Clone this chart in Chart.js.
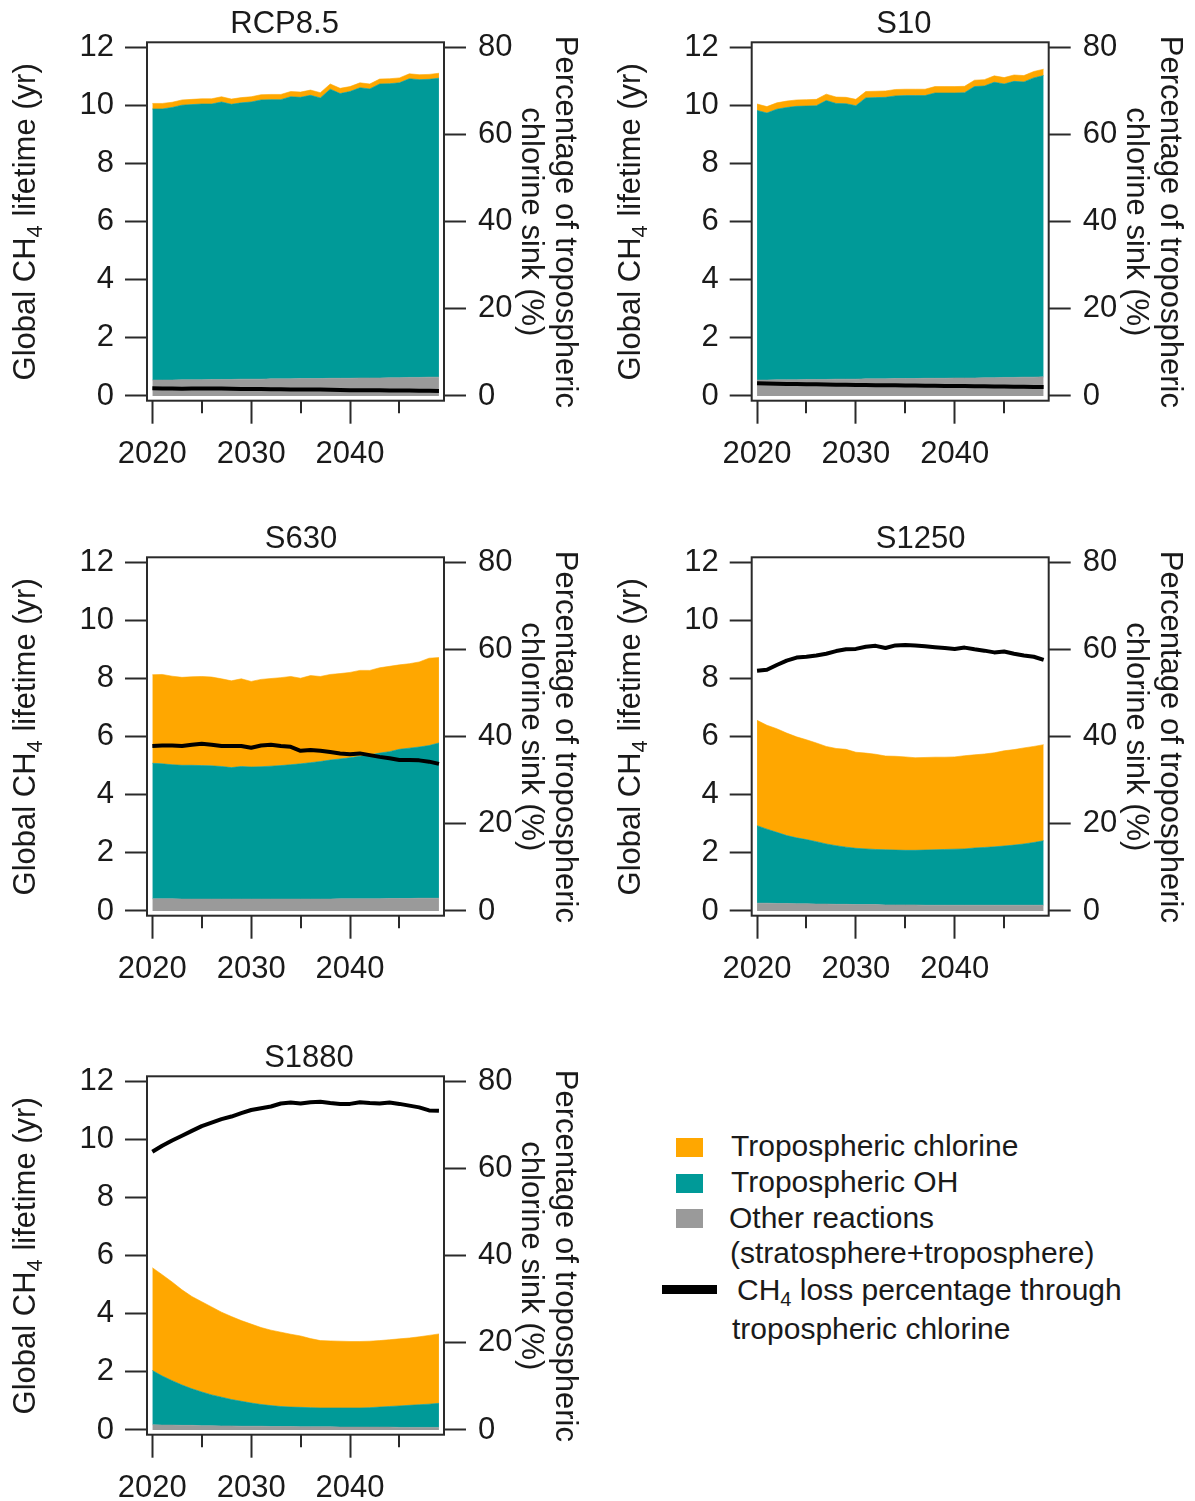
<!DOCTYPE html>
<html>
<head>
<meta charset="utf-8">
<title>Global CH4 lifetime by sink</title>
<script src="https://cdn.jsdelivr.net/npm/chart.js@4.4.1/dist/chart.umd.min.js"></script>
<style>
  html, body { margin: 0; padding: 0; background: #ffffff; }
  body { position: relative; width: 1195px; height: 1501px; overflow: hidden;
         font-family: "Liberation Sans", Arial, sans-serif; color: #1a1a1a; }
  canvas { position: absolute; }
  .swatch { position: absolute; }
  .legtext { position: absolute; font-size: 30px; line-height: 30px; white-space: nowrap; }
  .legtext sub { font-size: 20px; line-height: 0; vertical-align: -6px; }
</style>
</head>
<body>
<canvas id="p0" width="600" height="467" style="left:0px;top:0px"></canvas>
<canvas id="p1" width="590" height="467" style="left:605px;top:0px"></canvas>
<canvas id="p2" width="600" height="467" style="left:0px;top:515px"></canvas>
<canvas id="p3" width="590" height="467" style="left:605px;top:515px"></canvas>
<canvas id="p4" width="600" height="467" style="left:0px;top:1034px"></canvas>
<div id="legend"></div>

<script>
// ---- data -------------------------------------------------------------
const years = [2020, 2021, 2022, 2023, 2024, 2025, 2026, 2027, 2028, 2029,
               2030, 2031, 2032, 2033, 2034, 2035, 2036, 2037, 2038, 2039,
               2040, 2041, 2042, 2043, 2044, 2045, 2046, 2047, 2048, 2049];

const lifetimeTicks = [0, 2, 4, 6, 8, 10, 12];
const percentTicks = [0, 20, 40, 60, 80];
const yearTicks = [2020, 2030, 2040];
const minorYearTicks = [2025, 2035, 2045];

const scenarioNames = ['RCP8.5', 'S10', 'S630', 'S1250', 'S1880'];

// lifetime contributions (yr), stacked: other reactions, OH, chlorine
const rcpOther = [0.55,0.55,0.55,0.56,0.56,0.56,0.57,0.57,0.57,0.58,0.58,0.58,0.59,0.59,0.59,0.60,0.60,0.60,0.61,0.61,0.61,0.62,0.62,0.62,0.63,0.63,0.64,0.64,0.65,0.65];
const rcpOH    = [9.34,9.34,9.39,9.46,9.48,9.50,9.49,9.56,9.48,9.52,9.55,9.62,9.62,9.62,9.72,9.69,9.76,9.67,9.96,9.81,9.88,10.00,9.96,10.13,10.13,10.16,10.29,10.26,10.26,10.30];
const rcpCl    = [0.19,0.19,0.18,0.18,0.18,0.18,0.18,0.18,0.18,0.18,0.18,0.18,0.18,0.18,0.18,0.18,0.18,0.18,0.18,0.18,0.17,0.17,0.17,0.17,0.17,0.17,0.17,0.17,0.17,0.17];
const rcpPct   = [1.77,1.74,1.70,1.69,1.70,1.72,1.74,1.71,1.68,1.62,1.58,1.58,1.57,1.55,1.52,1.51,1.50,1.49,1.45,1.40,1.34,1.33,1.32,1.30,1.28,1.26,1.24,1.22,1.20,1.17];

const s10Other = [0.55,0.55,0.56,0.56,0.56,0.57,0.57,0.57,0.58,0.58,0.58,0.59,0.59,0.59,0.60,0.60,0.60,0.61,0.61,0.61,0.62,0.62,0.62,0.63,0.63,0.64,0.64,0.65,0.65,0.66];
const s10OH    = [9.29,9.20,9.32,9.38,9.42,9.42,9.43,9.61,9.50,9.49,9.42,9.68,9.69,9.70,9.74,9.75,9.75,9.74,9.83,9.83,9.82,9.83,10.04,10.05,10.18,10.11,10.20,10.17,10.31,10.38];
const s10Cl    = [0.22,0.22,0.22,0.22,0.22,0.22,0.22,0.22,0.22,0.22,0.22,0.22,0.22,0.22,0.22,0.22,0.22,0.22,0.22,0.22,0.22,0.22,0.22,0.22,0.22,0.22,0.22,0.22,0.22,0.22];
const s10Pct   = [2.90,2.86,2.82,2.78,2.74,2.70,2.67,2.64,2.60,2.56,2.52,2.50,2.48,2.46,2.44,2.42,2.40,2.36,2.33,2.31,2.29,2.27,2.24,2.22,2.20,2.18,2.15,2.12,2.09,2.06];

const s630Other = [0.42,0.42,0.42,0.41,0.41,0.41,0.41,0.41,0.41,0.41,0.41,0.41,0.41,0.41,0.41,0.41,0.41,0.41,0.41,0.42,0.42,0.42,0.42,0.42,0.43,0.43,0.43,0.44,0.44,0.44];
const s630OH    = [4.67,4.65,4.62,4.61,4.61,4.60,4.59,4.57,4.53,4.57,4.55,4.56,4.58,4.60,4.63,4.66,4.70,4.74,4.79,4.82,4.86,4.91,4.96,5.02,5.06,5.14,5.18,5.21,5.26,5.35];
const s630Cl    = [3.05,3.08,3.05,3.03,3.05,3.07,3.06,3.02,2.99,3.02,2.95,3.01,3.02,3.03,3.04,2.95,3.00,2.93,2.95,2.94,2.94,2.96,2.91,2.94,2.94,2.91,2.91,2.93,3.01,2.94];
const s630Pct   = [37.9,38.0,38.0,37.9,38.2,38.4,38.2,37.9,37.9,37.9,37.5,38.0,38.2,37.9,37.7,36.8,37.0,36.8,36.5,36.2,36.0,36.2,35.8,35.4,35.1,34.7,34.7,34.6,34.3,33.8];

const s1250Other = [0.27,0.27,0.26,0.26,0.25,0.25,0.24,0.24,0.23,0.23,0.22,0.22,0.22,0.21,0.21,0.21,0.21,0.20,0.20,0.20,0.20,0.20,0.20,0.20,0.20,0.20,0.20,0.20,0.20,0.20];
const s1250OH    = [2.67,2.55,2.45,2.34,2.27,2.21,2.15,2.07,2.02,1.97,1.94,1.92,1.90,1.90,1.89,1.88,1.88,1.90,1.91,1.92,1.93,1.94,1.97,1.99,2.01,2.04,2.07,2.11,2.16,2.22];
const s1250Cl    = [3.63,3.58,3.57,3.53,3.48,3.44,3.40,3.36,3.35,3.37,3.31,3.30,3.28,3.23,3.23,3.22,3.19,3.19,3.19,3.18,3.18,3.21,3.21,3.22,3.24,3.28,3.29,3.31,3.31,3.31];
const s1250Pct   = [55.2,55.4,56.5,57.5,58.2,58.4,58.7,59.1,59.7,60.1,60.2,60.7,60.9,60.4,61.0,61.1,61.0,60.8,60.6,60.4,60.2,60.5,60.1,59.8,59.4,59.6,59.1,58.7,58.4,57.7];

const s1880Other = [0.18,0.17,0.17,0.16,0.16,0.15,0.15,0.14,0.14,0.13,0.13,0.13,0.12,0.12,0.12,0.11,0.11,0.11,0.11,0.10,0.10,0.10,0.10,0.10,0.10,0.09,0.09,0.09,0.09,0.09];
const s1880OH    = [1.87,1.69,1.53,1.39,1.26,1.16,1.06,0.99,0.91,0.86,0.80,0.75,0.72,0.69,0.67,0.67,0.66,0.65,0.65,0.66,0.66,0.66,0.67,0.69,0.71,0.74,0.76,0.78,0.80,0.83];
const s1880Cl    = [3.54,3.49,3.40,3.28,3.18,3.11,3.03,2.93,2.86,2.78,2.72,2.65,2.60,2.56,2.51,2.46,2.38,2.32,2.31,2.30,2.29,2.29,2.29,2.29,2.30,2.31,2.32,2.34,2.37,2.39];
const s1880Pct   = [63.9,65.3,66.5,67.6,68.7,69.8,70.6,71.4,72.0,72.8,73.5,73.9,74.3,75.0,75.2,75.0,75.3,75.4,75.1,74.9,74.9,75.3,75.1,75.0,75.2,74.9,74.5,74.1,73.4,73.3];

const otherSeries = [rcpOther, s10Other, s630Other, s1250Other, s1880Other];
const ohSeries    = [rcpOH, s10OH, s630OH, s1250OH, s1880OH];
const clSeries    = [rcpCl, s10Cl, s630Cl, s1250Cl, s1880Cl];
const pctSeries   = [rcpPct, s10Pct, s630Pct, s1250Pct, s1880Pct];

// ---- styling ----------------------------------------------------------
const ORANGE = '#FFA700';
const TEAL   = '#009A98';
const GRAY   = '#9A9A9A';
const BLACK  = '#000000';
const AXIS   = '#2a2a2a';
const TEXT   = '#1a1a1a';
const FONT   = '"Liberation Sans", Arial, sans-serif';
const TEXT_SIZE = 31;

const LABEL_CL = 'Tropospheric chlorine';
const LABEL_OH = 'Tropospheric OH';
const LABEL_OTHER = 'Other reactions';

// plot frame inside each canvas (px)
const BOX_TOP = 42.3, BOX_BOTTOM = 400.7;
const X_MIN = 2019.46, X_MAX = 2049.51;
const Y_MIN = -0.162, Y_MAX = 12.186;
const PCT_PER_YR = 80 / 12;

const panelLayout = [
  { canvas: 'p0', boxL: 147.0, boxR: 444.0, titleDx: 137.6 },
  { canvas: 'p1', boxL: 146.7, boxR: 443.7, titleDx: 152.1 },
  { canvas: 'p2', boxL: 147.0, boxR: 444.0, titleDx: 154.0 },
  { canvas: 'p3', boxL: 146.7, boxR: 443.7, titleDx: 168.9 },
  { canvas: 'p4', boxL: 147.0, boxR: 444.0, titleDx: 162.0 }
];

// draws the frame, minor year ticks, panel title and axis titles
const panelDeco = {
  id: 'panelDeco',
  afterDatasetsDraw(chart, args, opts) {
    const { ctx, chartArea: a, scales } = chart;
    ctx.save();
    ctx.strokeStyle = AXIS;
    ctx.lineWidth = 2;
    ctx.beginPath();
    minorYearTicks.forEach(v => {
      const px = Math.round(scales.x.getPixelForValue(v));
      ctx.moveTo(px, a.bottom);
      ctx.lineTo(px, a.bottom + 12.5);
    });
    ctx.stroke();
    ctx.strokeRect(a.left, a.top, a.right - a.left, a.bottom - a.top);

    ctx.fillStyle = TEXT;
    ctx.textBaseline = 'alphabetic';
    ctx.font = TEXT_SIZE + 'px ' + FONT;
    ctx.textAlign = 'center';
    ctx.fillText(opts.title, a.left + opts.titleDx, a.top - 9);

    const cy = (scales.y.getPixelForValue(0) + scales.y.getPixelForValue(12)) / 2;

    // left title with subscript, reading bottom to top
    const parts = [
      { t: 'Global CH', size: TEXT_SIZE, dy: 0 },
      { t: '4', size: 22, dy: 7 },
      { t: ' lifetime (yr)', size: TEXT_SIZE, dy: 0 }
    ];
    let total = 0;
    parts.forEach(p => { ctx.font = p.size + 'px ' + FONT; p.w = ctx.measureText(p.t).width; total += p.w; });
    ctx.save();
    ctx.translate(a.left - 112, cy);
    ctx.rotate(-Math.PI / 2);
    ctx.textAlign = 'left';
    let x = -total / 2;
    parts.forEach(p => { ctx.font = p.size + 'px ' + FONT; ctx.fillText(p.t, x, p.dy); x += p.w; });
    ctx.restore();

    // right title, two lines, reading top to bottom
    ctx.font = TEXT_SIZE + 'px ' + FONT;
    ctx.textAlign = 'center';
    ctx.save();
    ctx.translate(a.right + 112, cy);
    ctx.rotate(Math.PI / 2);
    ctx.fillText('Percentage of tropospheric', 0, 0);
    ctx.restore();
    ctx.save();
    ctx.translate(a.right + 78, cy);
    ctx.rotate(Math.PI / 2);
    ctx.fillText('chlorine sink (%)', 0, 0);
    ctx.restore();
    ctx.restore();
  }
};

function points(values) {
  return values.map((v, i) => ({ x: years[i], y: v }));
}

function tickFont() {
  return { family: FONT, size: TEXT_SIZE };
}

function makePanel(i) {
  const lay = panelLayout[i];
  const canvas = document.getElementById(lay.canvas);
  const W = canvas.width, H = canvas.height;
  const areaStyle = c => ({ backgroundColor: c, borderColor: c, borderWidth: 0.6,
                            pointRadius: 0, tension: 0, yAxisID: 'y', order: 1 });
  return new Chart(canvas, {
    type: 'line',
    data: {
      datasets: [
        { label: 'CH4 loss percentage through tropospheric chlorine', data: points(pctSeries[i]),
          yAxisID: 'y2', borderColor: BLACK, borderWidth: 4, pointRadius: 0, tension: 0,
          fill: false, order: 0, borderJoinStyle: 'round' },
        Object.assign({ label: LABEL_OTHER, data: points(otherSeries[i]), fill: 'origin' }, areaStyle(GRAY)),
        Object.assign({ label: LABEL_OH, data: points(ohSeries[i]), fill: '-1' }, areaStyle(TEAL)),
        Object.assign({ label: LABEL_CL, data: points(clSeries[i]), fill: '-1' }, areaStyle(ORANGE))
      ]
    },
    options: {
      responsive: false,
      animation: false,
      events: [],
      layout: { padding: { top: BOX_TOP, left: 0, right: 0, bottom: 0 } },
      plugins: {
        legend: { display: false },
        tooltip: { enabled: false },
        panelDeco: { title: scenarioNames[i], titleDx: lay.titleDx }
      },
      scales: {
        x: {
          type: 'linear', position: 'bottom', min: X_MIN, max: X_MAX, bounds: 'data',
          afterBuildTicks: sc => { sc.ticks = yearTicks.map(v => ({ value: v })); },
          afterFit: sc => { sc.height = H - BOX_BOTTOM; },
          grid: { drawOnChartArea: false, drawTicks: true, tickLength: 23, tickWidth: 2, tickColor: AXIS },
          border: { display: false },
          ticks: { font: tickFont(), color: TEXT, padding: 12, maxRotation: 0, autoSkip: false,
                   callback: v => String(v) }
        },
        y: {
          type: 'linear', position: 'left', stacked: true, min: Y_MIN, max: Y_MAX, bounds: 'data',
          afterBuildTicks: sc => { sc.ticks = lifetimeTicks.map(v => ({ value: v })); },
          afterFit: sc => { sc.width = lay.boxL; },
          grid: { drawOnChartArea: false, drawTicks: true, tickLength: 22, tickWidth: 2, tickColor: AXIS },
          border: { display: false },
          ticks: { font: tickFont(), color: TEXT, padding: 11, autoSkip: false, callback: v => String(v) }
        },
        y2: {
          type: 'linear', position: 'right', min: Y_MIN * PCT_PER_YR, max: Y_MAX * PCT_PER_YR, bounds: 'data',
          afterBuildTicks: sc => { sc.ticks = percentTicks.map(v => ({ value: v })); },
          afterFit: sc => { sc.width = W - lay.boxR; },
          grid: { drawOnChartArea: false, drawTicks: true, tickLength: 22, tickWidth: 2, tickColor: AXIS },
          border: { display: false },
          ticks: { font: tickFont(), color: TEXT, padding: 12, autoSkip: false, callback: v => String(v) }
        }
      }
    },
    plugins: [panelDeco]
  });
}

scenarioNames.forEach((_, i) => makePanel(i));

// ---- shared legend ----------------------------------------------------
const legendBox = document.getElementById('legend');
const legendItems = [
  { swatch: { left: 676, top: 1138, width: 27, height: 19, bg: ORANGE } },
  { swatch: { left: 676, top: 1174, width: 27, height: 19, bg: TEAL } },
  { swatch: { left: 676, top: 1209, width: 27, height: 19, bg: GRAY } },
  { swatch: { left: 662, top: 1285, width: 55, height: 9, bg: BLACK } }
];
legendItems.forEach(it => {
  const d = document.createElement('div');
  d.className = 'swatch';
  d.style.cssText = `left:${it.swatch.left}px;top:${it.swatch.top}px;width:${it.swatch.width}px;height:${it.swatch.height}px;background:${it.swatch.bg}`;
  legendBox.appendChild(d);
});
const legendLines = [
  { html: LABEL_CL, left: 731, top: 1131 },
  { html: LABEL_OH, left: 731, top: 1167 },
  { html: LABEL_OTHER, left: 729, top: 1203 },
  { html: '(stratosphere+troposphere)', left: 730, top: 1238 },
  { html: 'CH<sub>4</sub> loss percentage through', left: 737, top: 1275 },
  { html: 'tropospheric chlorine', left: 732, top: 1314 }
];
legendLines.forEach(l => {
  const s = document.createElement('div');
  s.className = 'legtext';
  s.style.left = l.left + 'px';
  s.style.top = l.top + 'px';
  s.innerHTML = l.html;
  legendBox.appendChild(s);
});
</script>
</body>
</html>
